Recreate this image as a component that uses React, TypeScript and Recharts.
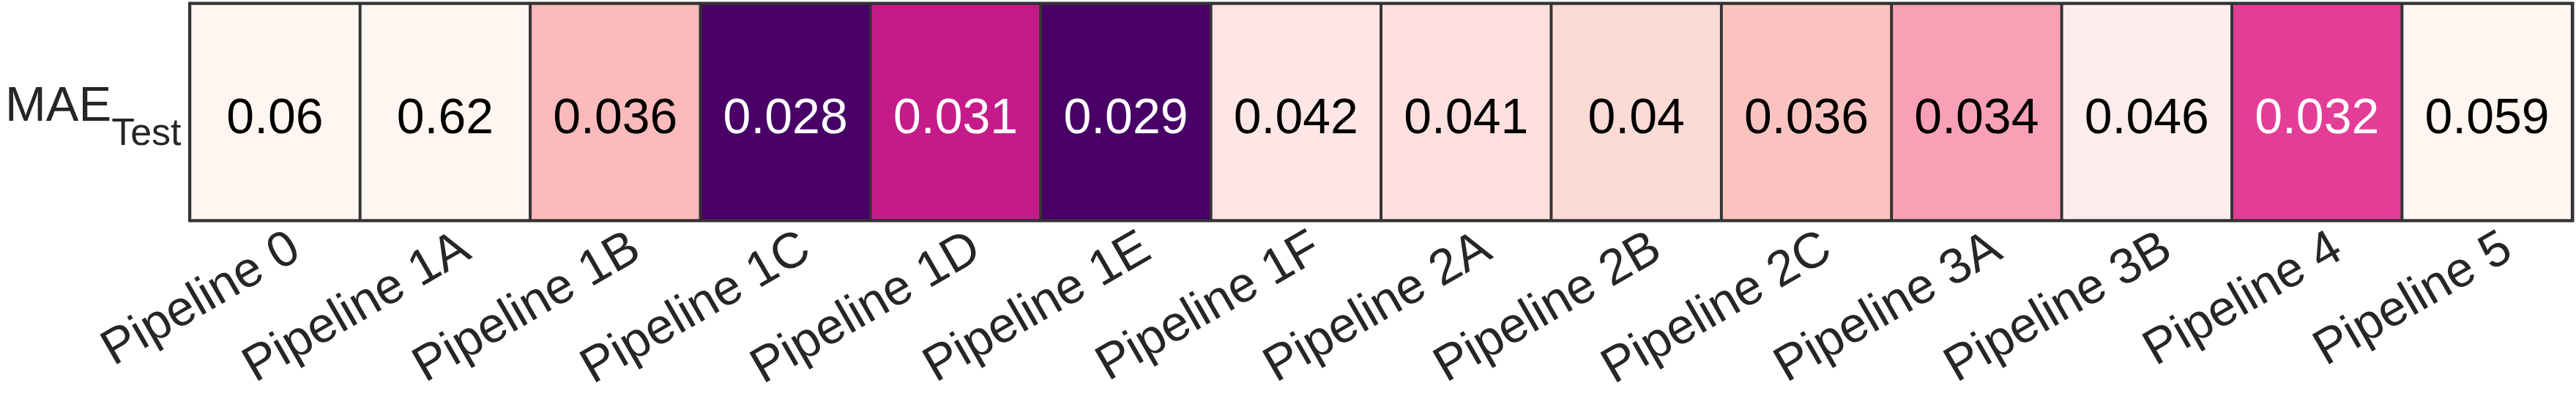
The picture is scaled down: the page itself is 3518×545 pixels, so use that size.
import React from "react";
import { BarChart, Bar, XAxis, YAxis, Cell, LabelList, ReferenceArea } from "recharts";

const pipelines = [
  "Pipeline 0", "Pipeline 1A", "Pipeline 1B", "Pipeline 1C", "Pipeline 1D", "Pipeline 1E", "Pipeline 1F",
  "Pipeline 2A", "Pipeline 2B", "Pipeline 2C", "Pipeline 3A", "Pipeline 3B", "Pipeline 4", "Pipeline 5",
];
const maeTest = [0.06, 0.62, 0.036, 0.028, 0.031, 0.029, 0.042, 0.041, 0.04, 0.036, 0.034, 0.046, 0.032, 0.059];
const cellColors = [
  "#fff6f1", "#fff6f1", "#fbbabb", "#480067", "#c51b8a", "#480067", "#fde6e5",
  "#fde0dd", "#fcdad6", "#fbc3c0", "#f9a0b7", "#fcedec", "#e33d98", "#fff6f1",
];
const rowLabel = "MAE";
const rowSub = "Test";

const data = pipelines.map((p, i) => ({ name: p, mae: maeTest[i], row: 1 }));

const FONT = "'Liberation Sans', Arial, Helvetica, sans-serif";

const XTick = (props: any) => {
  const { x, y, payload } = props;
  const ax = x + 38;
  const ay = y + 50;
  return (
    <text x={ax} y={ay} textAnchor="end" transform={`rotate(-30, ${ax}, ${ay})`}
      fontSize={68} fill="#262626" fontFamily={FONT}>
      {payload.value}
    </text>
  );
};

const YTick = (props: any) => {
  const { x, y } = props;
  return (
    <text x={x - 12} y={y + 12} textAnchor="end" fill="#262626" fontFamily={FONT}>
      <tspan fontSize={67}>{rowLabel}</tspan>
      <tspan fontSize={52} dy={33}>{rowSub}</tspan>
    </text>
  );
};

const CellLabel = (props: any) => {
  const { x, y, width, height, value } = props;
  const cx = x + width / 2;
  const cy = y + height / 2;
  const fill = value < 0.033 ? "#ffffff" : "#000000";
  return (
    <text x={cx} y={cy + 29} textAnchor="middle" fontSize={68} fill={fill} fontFamily={FONT}>
      {String(value)}
    </text>
  );
};

export default function App() {
  return (
    <div style={{ position: "absolute", left: 0, top: 0, width: 3518, height: 545, background: "#ffffff" }}>
      <BarChart
        width={3518}
        height={545}
        data={data}
        margin={{ top: 5, right: 5, left: 0, bottom: 0 }}
        barCategoryGap={0}
        barGap={0}
      >
        <XAxis
          dataKey="name"
          type="category"
          height={244}
          axisLine={false}
          tickLine={false}
          tickSize={0}
          tickMargin={0}
          interval={0}
          tick={<XTick />}
        />
        <YAxis
          type="number"
          domain={[0, 1]}
          ticks={[0.5]}
          width={259.5}
          axisLine={false}
          tickLine={false}
          tickSize={0}
          tickMargin={0}
          tick={<YTick />}
        />
        <Bar dataKey="row" isAnimationActive={false} stroke="#333333" strokeWidth={3.5}>
          {data.map((d, i) => (
            <Cell key={d.name} fill={cellColors[i]} />
          ))}
          <LabelList dataKey="mae" content={<CellLabel />} />
        </Bar>
        <ReferenceArea y1={0} y2={1} fill="none" fillOpacity={0} stroke="#333333" strokeWidth={5} ifOverflow="visible" />
      </BarChart>
    </div>
  );
}
